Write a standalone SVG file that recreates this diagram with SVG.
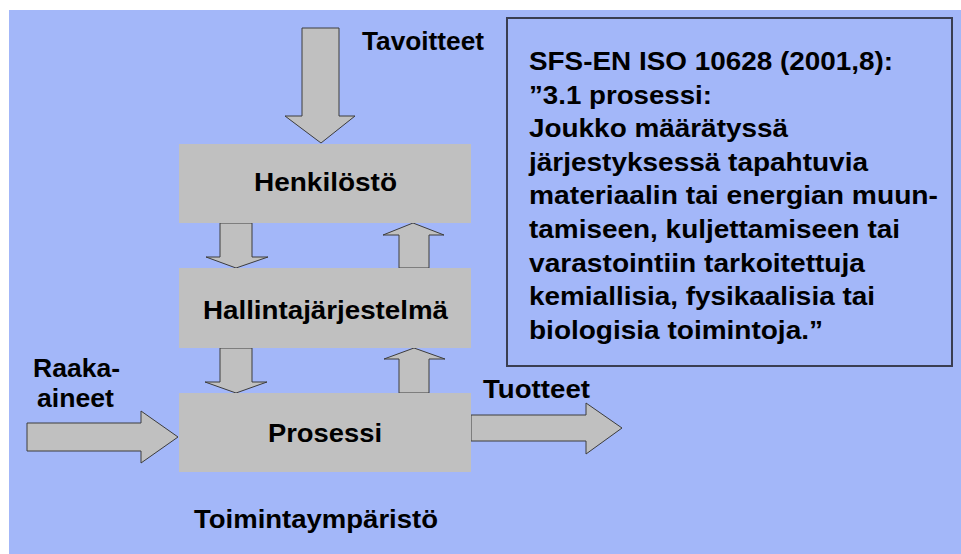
<svg xmlns="http://www.w3.org/2000/svg" width="961" height="554" viewBox="0 0 961 554">
  <style>
    .bg { fill: #a3b7f9; }
    .block { fill: #c0c0c0; }
    .arrow { fill: #c0c0c0; stroke: #3c3c3c; stroke-width: 1; stroke-linejoin: miter; }
    .frame { fill: none; stroke: #3a3e52; stroke-width: 2; }
    text { font-family: "Liberation Sans", Arial, sans-serif; font-weight: bold; font-size: 25px; fill: #000; }
  </style>

  <!-- page and backdrop -->
  <rect x="0" y="0" width="961" height="554" fill="#ffffff"/>
  <rect class="bg" x="9" y="10" width="952" height="544"/>

  <!-- flow arrows -->
  <g id="connectors">
    <polygon class="arrow" points="302,28 339,28 339,116 355,116 321,143 285,116 302,116"/>
    <polygon class="arrow" points="220,223 252,223 252,257 268,257 236,268 206,257 220,257"/>
    <polygon class="arrow" points="399,268 429,268 429,235 444,235 413,223 383,235 399,235"/>
    <polygon class="arrow" points="220,348 252,348 252,382 267,382 236,393 205,382 220,382"/>
    <polygon class="arrow" points="399,393 429,393 429,359 445,359 414,348 384,359 399,359"/>
    <polygon class="arrow" points="27,423 141,423 141,411 178,437 141,463 141,451 27,451"/>
    <polygon class="arrow" points="471,415 586,415 586,403 622,428 586,454 586,441 471,441"/>
    <text x="362" y="50" textLength="122" lengthAdjust="spacingAndGlyphs">Tavoitteet</text>
    <text x="33" y="377" textLength="87" lengthAdjust="spacingAndGlyphs">Raaka-</text>
    <text x="37" y="407" textLength="77" lengthAdjust="spacingAndGlyphs">aineet</text>
    <text x="483" y="398" textLength="107" lengthAdjust="spacingAndGlyphs">Tuotteet</text>
  </g>

  <g id="henkilosto">
    <rect class="block" x="179" y="144" width="292" height="79"/>
    <text x="254" y="191" textLength="143" lengthAdjust="spacingAndGlyphs">Henkilöstö</text>
  </g>

  <g id="hallintajarjestelma">
    <rect class="block" x="179" y="268" width="292" height="80"/>
    <text x="203" y="319" textLength="245" lengthAdjust="spacingAndGlyphs">Hallintajärjestelmä</text>
  </g>

  <g id="prosessi">
    <rect class="block" x="179" y="393" width="292" height="79"/>
    <text x="268" y="442" textLength="114" lengthAdjust="spacingAndGlyphs">Prosessi</text>
  </g>

  <g id="toimintaymparisto">
    <text x="194" y="528" textLength="244" lengthAdjust="spacingAndGlyphs">Toimintaympäristö</text>
  </g>

  <!-- standard definition -->
  <g id="maaritelma">
    <rect class="frame" x="507" y="18" width="445" height="348"/>
    <text x="529" y="70" textLength="364" lengthAdjust="spacingAndGlyphs">SFS-EN ISO 10628 (2001,8):</text>
    <text x="529" y="103.6" textLength="183" lengthAdjust="spacingAndGlyphs">”3.1 prosessi:</text>
    <text x="529" y="137.2" textLength="259" lengthAdjust="spacingAndGlyphs">Joukko määrätyssä</text>
    <text x="529" y="170.8" textLength="339" lengthAdjust="spacingAndGlyphs">järjestyksessä tapahtuvia</text>
    <text x="529" y="204.4" textLength="409" lengthAdjust="spacingAndGlyphs">materiaalin tai energian muun-</text>
    <text x="529" y="238" textLength="371" lengthAdjust="spacingAndGlyphs">tamiseen, kuljettamiseen tai</text>
    <text x="529" y="271.6" textLength="336" lengthAdjust="spacingAndGlyphs">varastointiin tarkoitettuja</text>
    <text x="529" y="305.2" textLength="346" lengthAdjust="spacingAndGlyphs">kemiallisia, fysikaalisia tai</text>
    <text x="529" y="338.8" textLength="294" lengthAdjust="spacingAndGlyphs">biologisia toimintoja.”</text>
  </g>
</svg>
